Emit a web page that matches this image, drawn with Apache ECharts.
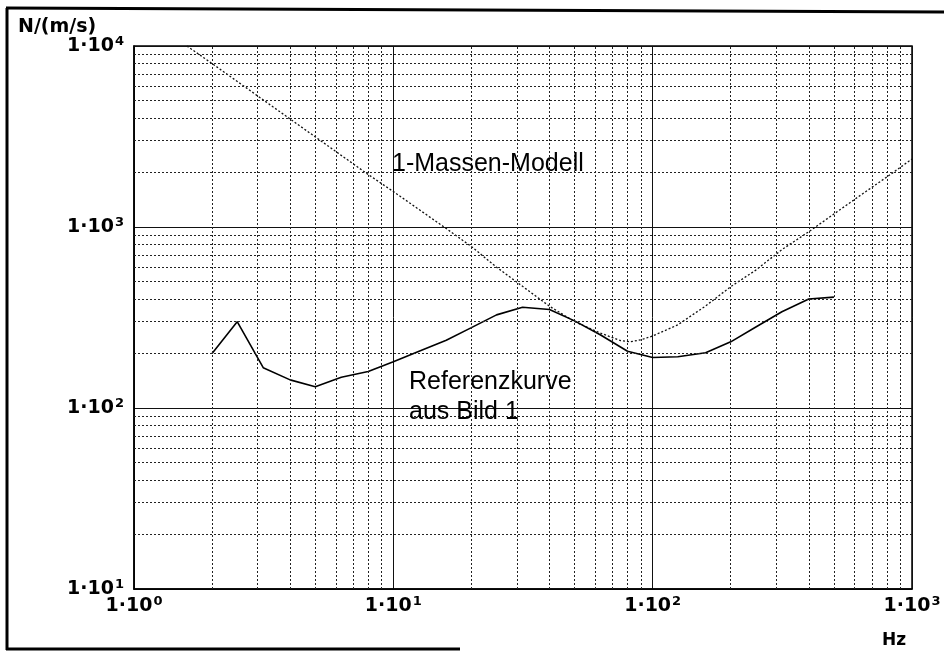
<!DOCTYPE html>
<html>
<head>
<meta charset="utf-8">
<title>Referenzkurve / 1-Massen-Modell</title>
<script src="https://cdn.jsdelivr.net/npm/echarts@6/dist/echarts.min.js"></script>
<style>
  html, body { margin: 0; padding: 0; background: #fff; }
  #chart { width: 944px; height: 651px; }
</style>
</head>
<body>
<div id="chart"></div>
<script>
// Referenzkurve aus Bild 1 (Hz, N/(m/s))
const refFreq = [2, 2.5, 3.15, 4, 5, 6.3, 8, 10, 12.5, 16, 20, 25, 31.5, 40, 50, 63, 80, 100, 125, 160, 200, 250, 315, 400, 500];
const refVal  = [200, 300, 167, 143, 131, 148, 159, 180, 205, 237, 278, 327, 360, 350, 303, 253, 206, 190, 192, 202, 232, 280, 340, 400, 410];

// 1-Massen-Modell
const massFreq = [1.6, 2, 4, 8, 10, 16, 20, 25, 31.5, 40, 50, 63, 75, 82, 90, 100, 125, 160, 200, 250, 315, 400, 500, 630, 800, 1000];
const massVal  = [10000, 8000, 3950, 1950, 1570, 980, 780, 600, 470, 365, 300, 259, 236, 232, 238, 250, 288, 366, 468, 578, 750, 942, 1180, 1490, 1890, 2375];

// dotted minor grid lines (log paper)
const minorX = [2, 3, 4, 5, 6, 7, 8, 9, 20, 30, 40, 50, 60, 70, 80, 90, 200, 300, 400, 500, 600, 700, 800, 900];
const minorY = [20, 30, 40, 50, 60, 70, 80, 90, 200, 300, 400, 500, 600, 700, 800, 900, 2000, 3000, 4000, 5000, 6000, 7000, 8000, 9000];

const chart = echarts.init(document.getElementById('chart'));

const labelFont = 'DejaVu Sans';
const tickFmt = v => '{b|1·10}{s|' + Math.round(Math.log10(v)) + '}';
const tickRich = {
  b: { fontFamily: labelFont, fontWeight: 'bold', fontSize: 19, color: '#000', lineHeight: 22 },
  s: { fontFamily: labelFont, fontWeight: 'bold', fontSize: 13, color: '#000', verticalAlign: 'top', padding: [0, 0, 0, 1] }
};

const minorLines = minorX.map(v => ({ xAxis: v })).concat(minorY.map(v => ({ yAxis: v })));

chart.setOption({
  backgroundColor: '#fff',
  animation: false,
  grid: {
    left: 134, right: 32, top: 46, bottom: 62,
    show: true, borderColor: '#000', borderWidth: 1.5, backgroundColor: 'transparent'
  },
  xAxis: {
    type: 'log', logBase: 10, min: 1, max: 1000,
    axisLine: { show: true, lineStyle: { color: '#000', width: 1.5 } },
    axisTick: { show: false },
    splitLine: { show: true, lineStyle: { color: '#111', width: 1 } },
    axisLabel: { formatter: tickFmt, rich: tickRich, margin: 6 }
  },
  yAxis: {
    type: 'log', logBase: 10, min: 10, max: 10000,
    axisLine: { show: true, lineStyle: { color: '#000', width: 1.5 } },
    axisTick: { show: false },
    splitLine: { show: true, lineStyle: { color: '#111', width: 1.2 } },
    axisLabel: { formatter: tickFmt, rich: tickRich, margin: 10 }
  },
  series: [
    {
      name: 'grid',
      type: 'line',
      data: [],
      z: 1,
      silent: true,
      markLine: {
        silent: true,
        symbol: ['none', 'none'],
        label: { show: false },
        lineStyle: { color: '#222', width: 1, type: [2, 2] },
        data: minorLines
      }
    },
    {
      name: '1-Massen-Modell',
      type: 'line',
      z: 3,
      data: massFreq.map((f, i) => [f, massVal[i]]),
      symbol: 'none',
      lineStyle: { color: '#111', width: 1.3, type: [2, 2] }
    },
    {
      name: 'Referenzkurve',
      type: 'line',
      z: 4,
      data: refFreq.map((f, i) => [f, refVal[i]]),
      symbol: 'none',
      lineStyle: { color: '#000', width: 1.6 }
    }
  ],
  graphic: [
    { type: 'line', shape: { x1: 6, y1: 8, x2: 944, y2: 12 }, style: { stroke: '#000', lineWidth: 3 } },
    { type: 'line', shape: { x1: 7, y1: 8, x2: 7, y2: 650 }, style: { stroke: '#000', lineWidth: 3 } },
    { type: 'line', shape: { x1: 6, y1: 649, x2: 460, y2: 649 }, style: { stroke: '#000', lineWidth: 3 } },
    { type: 'text', left: 18, top: 18, style: { text: 'N/(m/s)', font: 'bold 19px "DejaVu Sans"', fill: '#000' } },
    { type: 'text', left: 882, top: 632, style: { text: 'Hz', font: 'bold 17px "DejaVu Sans"', fill: '#000' } },
    { type: 'text', left: 392, top: 152, z: 10, style: { text: '1-Massen-Modell', font: '25px "Liberation Sans"', fill: '#000' } },
    { type: 'text', left: 409, top: 367, z: 10, style: { text: 'Referenzkurve\naus Bild 1', font: '25px "Liberation Sans"', lineHeight: 30, fill: '#000' } }
  ]
});
</script>
</body>
</html>
